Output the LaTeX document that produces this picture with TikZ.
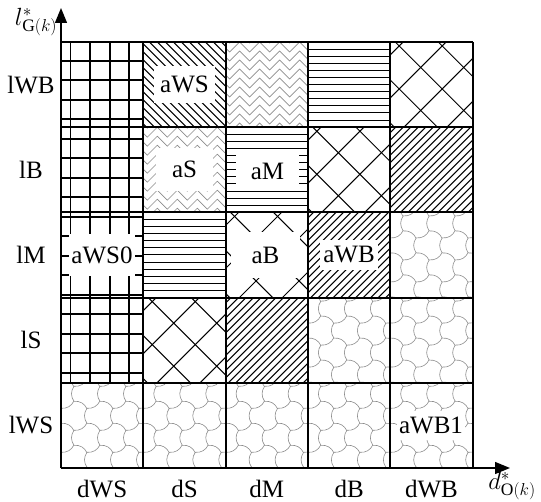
\documentclass[tikz,border=0pt]{standalone}
\usepackage{fontspec}
\setmainfont{Liberation Serif}
\usetikzlibrary{arrows.meta}

\tikzset{
  hatch/.style={line width=1pt},
  lighthatch/.style={line width=0.6pt,black!45},
  tag/.style 2 args={fill=white,inner xsep=#1,inner ysep=#2,font=\fontsize{25}{30}\selectfont},
  axlabel/.style={inner sep=1pt,font=\fontsize{25}{30}\selectfont},
  axis/.style={line width=1.3pt,-{Triangle[length=15pt,width=12pt]}}
}

\newcommand{\pathor}[2]{\begin{scope}\clip (#1,#2) rectangle ++(82.3,85.2);
  \foreach \k in {1,...,11} \draw[hatch] (#1,#2+\k*7.1) -- ++(82.3,0);
  \end{scope}}
\newcommand{\patslash}[2]{\begin{scope}\clip (#1,#2) rectangle ++(82.3,85.2);
  \foreach \k in {0,...,24} \draw[hatch] (#1-90+\k*7.5,#2+88) -- ++(90,-90);
  \end{scope}}
\newcommand{\patback}[2]{\begin{scope}\clip (#1,#2) rectangle ++(82.3,85.2);
  \foreach \k in {0,...,22} \draw[hatch] (#1-90+\k*8,#2) -- ++(90,90);
  \end{scope}}
\newcommand{\patcross}[2]{\begin{scope}\clip (#1,#2) rectangle ++(82.3,85.2);
  \foreach \k in {-3,...,2} {
    \draw[hatch] (#1+52+\k*43-100,#2+4-100) -- ++(200,200);
    \draw[hatch] (#1+52+\k*43-100,#2+4+100) -- ++(200,-200);}
  \end{scope}}
\newcommand{\patherr}[2]{\begin{scope}\clip (#1,#2) rectangle ++(82.3,85.2);
  \foreach \j in {-1,...,10}
    \draw[lighthatch] (#1-6,#2+\j*9) \foreach \i in {1,...,5} { -- ++(10,10) -- ++(10,-10) };
  \end{scope}}
\newcommand{\patcloud}[2]{\begin{scope}\clip (#1,#2) rectangle ++(82.3,85.2);
  \foreach \j in {0,...,5} \foreach \i in {0,...,4} {
    \pgfmathsetmacro\cx{#1-13+\i*26+mod(\j,2)*13}
    \pgfmathsetmacro\cy{#2-11+\j*22}
    \draw[lighthatch] (\cx,\cy-15) to[bend left=35] (\cx-13,\cy-7.5)
      to[bend right=35] (\cx-13,\cy+7.5) to[bend left=35] (\cx,\cy+15);}
  \end{scope}}

\begin{document}
\begin{tikzpicture}[x=1pt,y=-1pt]
\useasboundingbox (0,0) rectangle (541,502);

\begin{scope}
  \clip (61,42) rectangle (143.3,382.8);
  \foreach \k in {0,...,3} \draw[line width=1.7pt] (70.5+\k*19.6,42) -- ++(0,341);
  \foreach \k in {0,...,16} \draw[line width=1.7pt] (61,60.8+\k*19.5) -- ++(83,0);
\end{scope}

\foreach \c/\r/\p in {2/1/back,3/1/herr,4/1/hor,5/1/cross,
    2/2/herr,3/2/hor,4/2/cross,5/2/slash,
    2/3/hor,3/3/cross,4/3/slash,5/3/cloud,
    2/4/cross,3/4/slash,4/4/cloud,5/4/cloud,
    1/5/cloud,2/5/cloud,3/5/cloud,4/5/cloud,5/5/cloud} {
  \pgfmathsetmacro\xa{61+(\c-1)*82.3}
  \pgfmathsetmacro\ya{42+(\r-1)*85.2}
  \csname pat\p\endcsname{\xa}{\ya}
}

\node[tag={6pt}{10pt}] (aws) at (184.5,84.6) {aWS};
\node[tag={16pt}{13pt}] (as) at (184.5,169.8) {aS};
\node[tag={15pt}{9pt}] (am) at (267.5,171) {aM};
\node[tag={2pt}{12pt}] (aws0) at (102,255) {aWS0};
\node[tag={21pt}{15pt}] (ab) at (265.5,255) {aB};
\node[tag={3pt}{7pt}] (awb) at (349,255) {aWB};
\node[tag={2pt}{6pt}] (awb1) at (431,425.4) {aWB1};

\foreach \i in {0,...,5} {
  \draw[line width=2pt] (61+\i*82.3,42) -- (61+\i*82.3,468);
  \draw[line width=2pt] (61,42+\i*85.2) -- (472.5,42+\i*85.2);
}

\coordinate (O) at (61,468);
\coordinate (ytip) at (61,8);
\coordinate (xtip) at (510,468);
\draw[axis] (O) -- (ytip);
\draw[axis] (O) -- (xtip);
\node[axlabel] (ylab) at (36,22) {$l^{*}_{\mathrm{G}(k)}$};
\node[axlabel] (xlab) at (512,486) {$d^{*}_{\mathrm{O}(k)}$};

\foreach \t [count=\n] in {lWB,lB,lM,lS,lWS}
  \node[axlabel] (row\n) at (31,84.6+\n*85.2-85.2) {\t};
\foreach \t [count=\n] in {dWS,dS,dM,dB,dWB}
  \node[axlabel] (col\n) at (102.2+\n*82.3-82.3,489) {\t};
\end{tikzpicture}
\end{document}
